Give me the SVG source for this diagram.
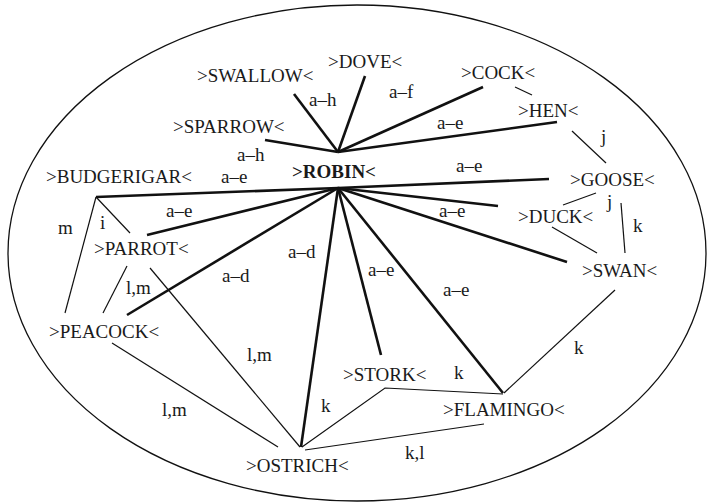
<svg xmlns="http://www.w3.org/2000/svg" width="708" height="502" viewBox="0 0 708 502">
<style>
text{font-family:"Liberation Serif","Times New Roman",serif;font-size:19px;fill:#1a1a1a}
.b{font-weight:bold}
.thick{stroke:#111;stroke-width:2.6;fill:none;stroke-linecap:butt}
.thin{stroke:#111;stroke-width:1.2;fill:none}
</style>
<rect width="708" height="502" fill="#fff"/>
<ellipse cx="357" cy="253" rx="349" ry="248" fill="none" stroke="#111" stroke-width="1.3"/>
<g id="connectors">
<g class="thick">
<line x1="338" y1="152" x2="294" y2="94"/>
<line x1="338" y1="152" x2="365" y2="76"/>
<line x1="338" y1="152" x2="265" y2="140"/>
<line x1="338" y1="152" x2="483" y2="87"/>
<line x1="338" y1="152" x2="557" y2="122"/>
<line x1="338" y1="188" x2="96" y2="197"/>
<line x1="338" y1="188" x2="549" y2="179"/>
<line x1="338" y1="188" x2="498" y2="206"/>
<line x1="338" y1="188" x2="567" y2="262"/>
<line x1="338" y1="188" x2="147" y2="235"/>
<line x1="338" y1="188" x2="127" y2="315"/>
<line x1="338" y1="188" x2="301" y2="447"/>
<line x1="338" y1="188" x2="381" y2="355"/>
<line x1="338" y1="188" x2="503" y2="393"/>
</g>
<g class="thin">
<line x1="515" y1="87" x2="532" y2="95"/>
<line x1="572" y1="131" x2="606" y2="163"/>
<line x1="596" y1="193" x2="563" y2="205"/>
<line x1="621" y1="203" x2="625" y2="253"/>
<line x1="552" y1="227" x2="597" y2="253"/>
<line x1="615" y1="290" x2="504" y2="393"/>
<line x1="96" y1="197" x2="130" y2="233"/>
<line x1="96" y1="197" x2="65" y2="313"/>
<line x1="127" y1="266" x2="103" y2="313"/>
<line x1="150" y1="268" x2="300" y2="447"/>
<line x1="112" y1="343" x2="278" y2="447"/>
<polyline points="302,447 385,388 503,394"/>
<line x1="484" y1="424" x2="305" y2="450"/>
</g>
</g>
<g id="robin"><text class="b" x="292" y="178">&gt;ROBIN&lt;</text></g>
<g id="swallow"><text x="197" y="82">&gt;SWALLOW&lt;</text></g>
<g id="dove"><text x="328" y="68">&gt;DOVE&lt;</text></g>
<g id="sparrow"><text x="173" y="133">&gt;SPARROW&lt;</text></g>
<g id="cock"><text x="461" y="79">&gt;COCK&lt;</text></g>
<g id="hen"><text x="518" y="117">&gt;HEN&lt;</text></g>
<g id="goose"><text x="570" y="186">&gt;GOOSE&lt;</text></g>
<g id="duck"><text x="518" y="223">&gt;DUCK&lt;</text></g>
<g id="swan"><text x="582" y="277">&gt;SWAN&lt;</text></g>
<g id="budgerigar"><text x="46" y="183">&gt;BUDGERIGAR&lt;</text></g>
<g id="parrot"><text x="94" y="255">&gt;PARROT&lt;</text></g>
<g id="peacock"><text x="49" y="338">&gt;PEACOCK&lt;</text></g>
<g id="stork"><text x="343" y="381">&gt;STORK&lt;</text></g>
<g id="flamingo"><text x="443" y="416">&gt;FLAMINGO&lt;</text></g>
<g id="ostrich"><text x="246" y="472">&gt;OSTRICH&lt;</text></g>
<g id="labels">
<text x="309" y="106">a–h</text>
<text x="389" y="98">a–f</text>
<text x="237" y="161">a–h</text>
<text x="437" y="129">a–e</text>
<text x="601" y="143">j</text>
<text x="456" y="172">a–e</text>
<text x="607" y="208">j</text>
<text x="633" y="232">k</text>
<text x="439" y="217">a–e</text>
<text x="574" y="354">k</text>
<text x="221" y="183">a–e</text>
<text x="58" y="234">m</text>
<text x="100" y="229">i</text>
<text x="166" y="217">a–e</text>
<text x="126" y="294">l,m</text>
<text x="222" y="282">a–d</text>
<text x="288" y="258">a–d</text>
<text x="247" y="361">l,m</text>
<text x="368" y="276">a–e</text>
<text x="443" y="296">a–e</text>
<text x="454" y="379">k</text>
<text x="321" y="412">k</text>
<text x="405" y="459">k,l</text>
<text x="162" y="416">l,m</text>
</g>
</svg>
